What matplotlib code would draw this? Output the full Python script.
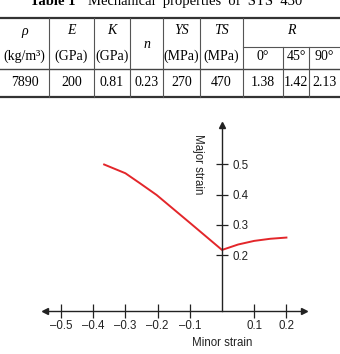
import matplotlib
matplotlib.use("Agg")
import matplotlib.pyplot as plt

# table data
col_heads = ["ρ", "E", "K", "n", "YS", "TS"]
col_units = ["(kg/m³)", "(GPa)", "(GPa)", "", "(MPa)", "(MPa)"]
r_angles = ["0°", "45°", "90°"]
row_values = ["7890", "200", "0.81", "0.23", "270", "470", "1.38", "1.42", "2.13"]

# forming limit curve
minor_strain = [-0.366, -0.30, -0.255, -0.203, -0.10, 0.0, 0.025, 0.05, 0.10, 0.15, 0.20]
major_strain = [0.500, 0.471, 0.438, 0.399, 0.307, 0.217, 0.226, 0.235, 0.247, 0.254, 0.258]

x_ticks = [-0.5, -0.4, -0.3, -0.2, -0.1, 0.1, 0.2]
y_ticks = [0.2, 0.3, 0.4, 0.5]

fig = plt.figure(figsize=(3.4, 3.54), dpi=100)

# ---- table, drawn in pixel coordinates ----
tb = fig.add_axes([0, 0, 1, 1])
tb.set_xlim(0, 340)
tb.set_ylim(354, 0)
tb.axis("off")

serif = "Liberation Serif"
tb.text(76, 5, "Table 1", family=serif, weight="bold", fontsize=10.5, ha="right", va="baseline")
tb.text(88, 5, "Mechanical  properties  of  STS  430", family=serif, fontsize=10.5,
        ha="left", va="baseline")

edges = [0, 49, 94, 130, 163, 200, 243, 283, 309, 340]
tb.plot([0, 340], [18, 18], color="#333333", lw=1.6)
tb.plot([0, 340], [69, 69], color="#444444", lw=1.0)
tb.plot([0, 340], [97, 97], color="#333333", lw=1.6)
tb.plot([243, 340], [47, 47], color="#555555", lw=0.8)
for xe in edges[1:7]:
    tb.plot([xe, xe], [18, 97], color="#555555", lw=0.8)
for xe in edges[7:9]:
    tb.plot([xe, xe], [47, 97], color="#555555", lw=0.8)

fs = 10
for i, (h, u) in enumerate(zip(col_heads, col_units)):
    cx = (edges[i] + edges[i + 1]) / 2
    if u:
        tb.text(cx, 31, h, family=serif, style="italic", fontsize=fs, ha="center", va="center")
        tb.text(cx, 56, u, family=serif, fontsize=fs, ha="center", va="center")
    else:
        tb.text(cx, 44, h, family=serif, style="italic", fontsize=fs, ha="center", va="center")
tb.text((243 + 340) / 2, 31, "R", family=serif, style="italic", fontsize=fs, ha="center", va="center")
for j, a in enumerate(r_angles):
    cx = (edges[6 + j] + edges[7 + j]) / 2
    tb.text(cx, 57, a, family=serif, fontsize=fs, ha="center", va="center")
for i, v in enumerate(row_values):
    cx = (edges[i] + edges[i + 1]) / 2
    tb.text(cx, 83, v, family=serif, fontsize=fs, ha="center", va="center")

# ---- strain diagram ----
ax = fig.add_axes([0.1036, 0.0065, 0.8335, 0.6653])
ax.set_xlim(-0.58, 0.30)
ax.set_ylim(-0.12, 0.66)
ax.patch.set_alpha(0)

x0 = 0.015
ax.spines["top"].set_visible(False)
ax.spines["left"].set_visible(False)
ax.spines["bottom"].set_position(("data", x0))
ax.spines["bottom"].set_bounds(-0.55, 0.255)
ax.spines["right"].set_position(("data", 0))
ax.spines["right"].set_bounds(x0, 0.63)
for s in ("bottom", "right"):
    ax.spines[s].set_linewidth(1.0)
    ax.spines[s].set_color("#222222")
ax.yaxis.tick_right()

ax.plot([0.255], [x0], marker=">", color="#222222", ms=4, clip_on=False)
ax.plot([-0.55], [x0], marker="<", color="#222222", ms=4, clip_on=False)
ax.plot([0], [0.63], marker="^", color="#222222", ms=4, clip_on=False)

sans = "Liberation Sans"
ax.set_xticks(x_ticks)
ax.set_xticklabels([f"{t:.1f}".replace("-", "\u2013") for t in x_ticks], family=sans, fontsize=8.3)
ax.set_yticks(y_ticks)
ax.set_yticklabels([f"{t:.1f}" for t in y_ticks], family=sans, fontsize=8.3)
ax.tick_params(axis="x", direction="inout", length=9.4, width=0.9, pad=2, colors="#222222")
ax.tick_params(axis="y", direction="inout", length=8.5, width=0.9, pad=3.5, colors="#222222")

ax.plot(minor_strain, major_strain, color="#e3262a", lw=1.4)

ax.text(0.0, -0.09, "Minor strain", family=sans, fontsize=8.3, ha="center", va="center", color="#222222")
ax.text(-0.075, 0.502, "Major strain", family=sans, fontsize=8.3, ha="center", va="center",
        rotation=270, color="#222222")

fig.savefig("out.png", dpi=100)
